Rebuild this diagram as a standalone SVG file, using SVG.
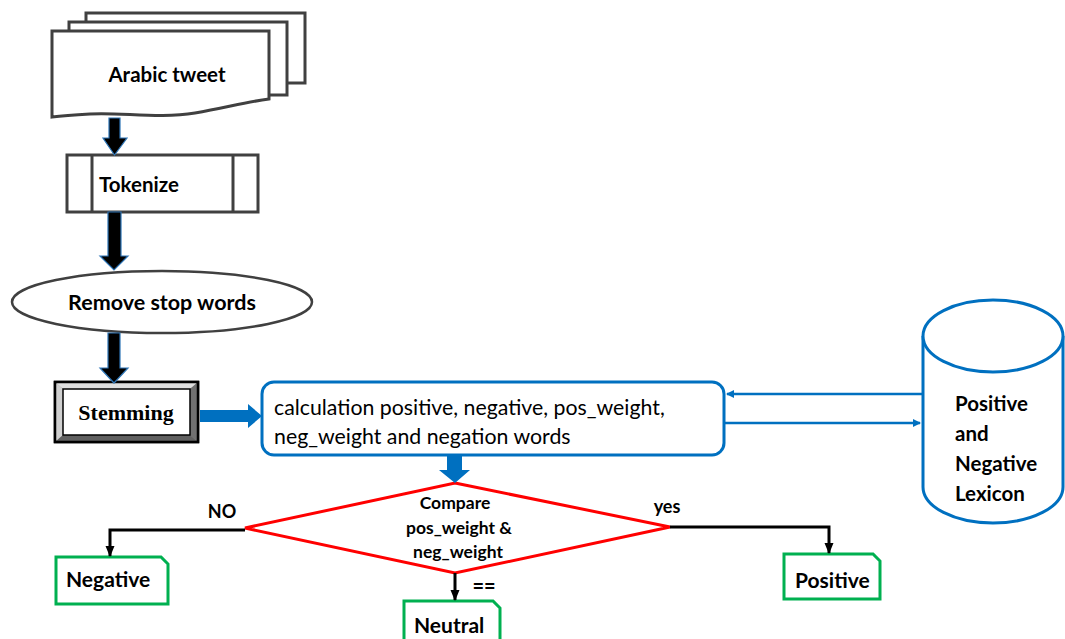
<svg xmlns="http://www.w3.org/2000/svg" width="1065" height="639" viewBox="0 0 1065 639">
<style>
.doc{fill:#fff;stroke:#404040;stroke-width:3}
.lbl{font-family:Lato,"Liberation Sans",sans-serif;font-weight:bold;fill:#000}
.reg{font-family:Lato,"Liberation Sans",sans-serif;fill:#000}
.blk{fill:#000;stroke:#2E75B6;stroke-width:1.2}
.blue{fill:#0070C0}
.bl{stroke:#0070C0;stroke-width:2.5;fill:none}
.k{stroke:#000;stroke-width:3;fill:none}
.res{fill:#fff;stroke:#00B050;stroke-width:3}
</style>
<defs>
<marker id="ab" markerWidth="8" markerHeight="8" refX="7" refY="4" orient="auto" markerUnits="userSpaceOnUse" viewBox="0 0 8 8"><path d="M0,0 L8,4 L0,8 z" fill="#0070C0"/></marker>
<marker id="ak" markerWidth="12" markerHeight="12" refX="10" refY="6" orient="auto" markerUnits="userSpaceOnUse" viewBox="0 0 12 12"><path d="M0,1.5 L11,6 L0,10.5 z" fill="#000"/></marker>
</defs>
<rect width="1065" height="639" fill="#fff"/>

<g id="arabic-tweet">
<rect class="doc" x="86" y="13" width="219" height="70"/>
<rect class="doc" x="69" y="22" width="218" height="73"/>
<path class="doc" d="M52,31 H269 V99 C245,102 225,108 195,113 C160,119 120,112 90,114 C72,115 60,116 52,117 Z"/>
<text class="lbl" x="167" y="82" font-size="20.5" text-anchor="middle">Arabic tweet</text>
</g>

<g id="tokenize">
<rect class="doc" x="67" y="155" width="191" height="57"/>
<line class="doc" x1="92" y1="155" x2="92" y2="212"/>
<line class="doc" x1="233" y1="155" x2="233" y2="212"/>
<text class="lbl" x="99" y="192" font-size="20.5">Tokenize</text>
</g>

<g id="remove-stop-words">
<ellipse cx="162" cy="302" rx="150" ry="31" fill="#fff" stroke="#404040" stroke-width="2.5"/>
<text class="lbl" x="162" y="310" font-size="21.5" text-anchor="middle">Remove stop words</text>
</g>

<g id="stemming">
<rect x="55" y="382" width="143" height="60" fill="#a0a0a0" stroke="#000" stroke-width="2.5"/>
<polygon points="55,382 198,382 190,389 63,389" fill="#e0e0e0"/>
<polygon points="55,382 63,389 63,435 55,442" fill="#d0d0d0"/>
<polygon points="198,382 190,389 190,435 198,442" fill="#707070"/>
<polygon points="55,442 63,435 190,435 198,442" fill="#606060"/>
<rect x="55" y="382" width="143" height="60" fill="none" stroke="#000" stroke-width="2.5"/>
<rect x="63" y="389" width="127" height="46" fill="#fff" stroke="#000" stroke-width="1.5"/>
<text x="126" y="420" font-size="22" font-weight="bold" text-anchor="middle" font-family="'Liberation Serif',serif">Stemming</text>
</g>

<g id="calculation">
<rect x="262" y="382" width="462" height="73" rx="12" fill="#fff" stroke="#0070C0" stroke-width="3"/>
<text class="reg" x="274" y="415" font-size="21.3">calculation positive, negative, pos_weight,</text>
<text class="reg" x="274" y="444" font-size="21.3">neg_weight and negation words</text>
</g>

<g id="lexicon">
<path d="M923,336 V487 A70,36 0 0 0 1063,487 V336" fill="#fff" stroke="#0070C0" stroke-width="3"/>
<ellipse cx="993" cy="336" rx="70" ry="36" fill="#fff" stroke="#0070C0" stroke-width="3"/>
<text class="lbl" x="955" y="411" font-size="20.5">Positive</text>
<text class="lbl" x="955" y="441" font-size="20.5">and</text>
<text class="lbl" x="955" y="471" font-size="20.5">Negative</text>
<text class="lbl" x="955" y="501" font-size="20.5">Lexicon</text>
</g>

<g id="compare">
<polygon points="455,483 670,527 455,573 245,528" fill="#fff" stroke="#FF0000" stroke-width="3"/>
<text class="lbl" x="455" y="509" font-size="17.5" text-anchor="middle">Compare</text>
<text class="lbl" x="459" y="534" font-size="17.5" text-anchor="middle">pos_weight &amp;</text>
<text class="lbl" x="458" y="558" font-size="17.5" text-anchor="middle">neg_weight</text>
</g>

<g id="negative">
<path class="res" d="M56,557 H161 L168,564 V604 H56 Z"/>
<text class="lbl" x="66" y="587" font-size="21">Negative</text>
</g>

<g id="neutral">
<path class="res" d="M404,601 H493 L500,608 V645 H404 Z"/>
<text class="lbl" x="414" y="633" font-size="21">Neutral</text>
</g>

<g id="positive">
<path class="res" d="M784,554 H873 L880,561 V599 H784 Z"/>
<text class="lbl" x="795" y="588" font-size="21">Positive</text>
</g>

<g id="connectors">
<polygon class="blk" points="109,118 120,118 120,138 127,138 114.5,155 103,138 109,138"/>
<polygon class="blk" points="108,212 121,212 121,256 128,256 114,270 100,256 108,256"/>
<polygon class="blk" points="108,333 120,333 120,368 128,368 114,383 100,368 108,368"/>
<polygon class="blue" points="200,410 248,410 248,404 262,416 248,428 248,422 200,422"/>
<polygon class="blue" points="447,455 462,455 462,470 470,470 455,483 439,470 447,470"/>
<line class="bl" x1="922" y1="394" x2="727" y2="394" marker-end="url(#ab)"/>
<line class="bl" x1="723" y1="423" x2="920" y2="423" marker-end="url(#ab)"/>
<polyline class="k" points="245,530 110,530 110,556" marker-end="url(#ak)"/>
<polyline class="k" points="670,527 829,527 829,553" marker-end="url(#ak)"/>
<line class="k" x1="455" y1="573" x2="455" y2="600" marker-end="url(#ak)"/>
<text class="lbl" x="222" y="518" font-size="18" text-anchor="middle">NO</text>
<text class="lbl" x="667" y="513" font-size="18" text-anchor="middle">yes</text>
<text class="lbl" x="484" y="593" font-size="20" text-anchor="middle">==</text>
</g>
</svg>
